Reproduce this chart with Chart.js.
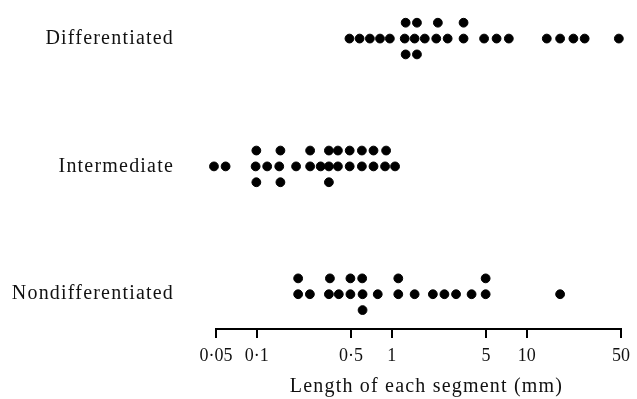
<!DOCTYPE html>
<html>
<head>
<meta charset="utf-8">
<script src="https://cdn.jsdelivr.net/npm/chart.js@4/dist/chart.umd.min.js"></script>
<style>
  html, body { margin: 0; padding: 0; background: #fff; }
  #wrap { width: 637px; height: 399px; position: relative; }
</style>
</head>
<body>
<div id="wrap"><canvas id="c"></canvas></div>
<script>
// Categories (top to bottom)
const categories = ['Differentiated', 'Intermediate', 'Nondifferentiated'];

// Segment lengths (mm), by stacked row
const diffTop = [1.27, 1.54, 2.2, 3.41];
const diffMid = [0.487, 0.579, 0.69, 0.82, 0.97, 1.25, 1.48, 1.76, 2.14, 2.6, 3.41, 4.84, 5.99, 7.38, 14.1, 17.7, 22.2, 26.9, 48.2];
const diffBot = [1.27, 1.54];

const interTop = [0.0995, 0.15, 0.249, 0.343, 0.40, 0.489, 0.602, 0.734, 0.91];
const interMid = [0.0483, 0.0589, 0.0983, 0.1197, 0.147, 0.196, 0.249, 0.298, 0.343, 0.40, 0.489, 0.602, 0.734, 0.894, 1.06];
const interBot = [0.0995, 0.15, 0.343];

const nonTop = [0.203, 0.349, 0.495, 0.605, 1.12, 4.97];
const nonMid = [0.203, 0.248, 0.343, 0.406, 0.495, 0.609, 0.789, 1.12, 1.48, 2.02, 2.46, 3.0, 3.91, 4.97, 17.7];
const nonBot = [0.609];

// Axis ticks
const tickValues = [0.05, 0.1, 0.5, 1, 5, 10, 50];
const tickLabels = ['0·05', '0·1', '0·5', '1', '5', '10', '50'];

const rows = [
  { cat: 2, top: diffTop, mid: diffMid, bot: diffBot },
  { cat: 1, top: interTop, mid: interMid, bot: interBot },
  { cat: 0, top: nonTop, mid: nonMid, bot: nonBot }
];
const stackStep = 0.124;
const points = [];
rows.forEach(r => {
  r.top.forEach(v => points.push({ x: v, y: r.cat + stackStep }));
  r.mid.forEach(v => points.push({ x: v, y: r.cat }));
  r.bot.forEach(v => points.push({ x: v, y: r.cat - stackStep }));
});

const family = "'Liberation Serif', 'DejaVu Serif', serif";
const labelFont = { family: family, size: 20 };
const tickFont = { family: family, size: 18 };

// wider letter spacing for the typeset look of category labels and title
const spacingPlugin = {
  id: 'spacing',
  beforeDraw: chart => { chart.ctx.letterSpacing = '1.2px'; }
};

new Chart(document.getElementById('c'), {
  type: 'scatter',
  plugins: [spacingPlugin],
  data: {
    datasets: [{
      data: points,
      backgroundColor: '#000',
      borderColor: '#000',
      pointRadius: 4.4,
      pointHoverRadius: 4.4,
      clip: false
    }]
  },
  options: {
    responsive: true,
    maintainAspectRatio: false,
    animation: false,
    layout: { padding: { top: 13, right: 12, bottom: 0, left: 0 } },
    plugins: { legend: { display: false }, tooltip: { enabled: false } },
    scales: {
      x: {
        type: 'logarithmic',
        min: 0.05,
        max: 50,
        afterBuildTicks: s => { s.ticks = tickValues.map(v => ({ value: v })); },
        afterFit: s => { s.height = 70; },
        afterUpdate: s => {
          if (!s._patched) {
            const origLabels = s.drawLabels;
            s.drawLabels = function (area) {
              const c = this.ctx; const prev = c.letterSpacing;
              c.letterSpacing = '0px';
              origLabels.call(this, area);
              c.letterSpacing = prev;
            };
            const origTitle = s.drawTitle;
            s.drawTitle = function () {
              const c = this.ctx;
              c.save(); c.translate(8, 0);
              origTitle.call(this);
              c.restore();
            };
            s._patched = true;
          }
        },
        border: { display: true, color: '#000', width: 2 },
        grid: { display: true, drawOnChartArea: false, drawTicks: true, tickLength: 9, color: '#000', lineWidth: 2 },
        ticks: {
          autoSkip: false,
          maxRotation: 0,
          padding: 7,
          color: '#111',
          font: tickFont,
          callback: v => { const i = tickValues.indexOf(v); return i >= 0 ? tickLabels[i] : ''; }
        },
        title: {
          display: true,
          text: 'Length of each segment (mm)',
          color: '#111',
          font: labelFont,
          padding: { top: 0, bottom: 0 }
        }
      },
      y: {
        type: 'linear',
        min: -0.272,
        max: 2.2,
        afterBuildTicks: s => { s.ticks = [0, 1, 2].map(v => ({ value: v })); },
        afterFit: s => { s.width = 216; s.paddingTop = 0; s.paddingBottom = 0; },
        border: { display: false },
        grid: { display: false },
        ticks: {
          padding: 34,
          color: '#111',
          font: labelFont,
          callback: v => categories[2 - v]
        }
      }
    }
  }
});
</script>
</body>
</html>
